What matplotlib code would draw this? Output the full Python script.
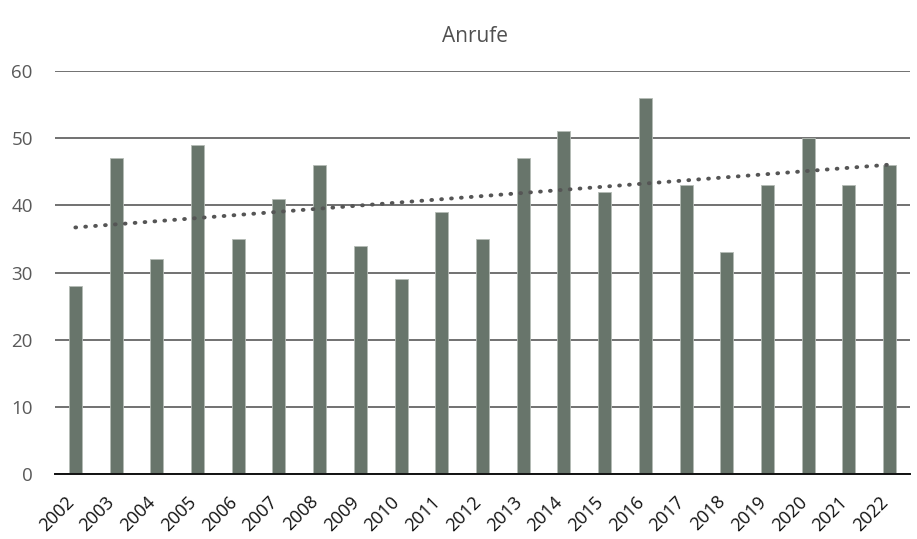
import numpy as np
import matplotlib
matplotlib.use("Agg")
import matplotlib.pyplot as plt
import matplotlib.transforms as mtransforms

plt.rcParams['font.family'] = ['Open Sans', 'DejaVu Sans']

years = [str(y) for y in range(2002, 2023)]
calls = [28, 47, 32, 49, 35, 41, 46, 34, 29, 39, 35, 47, 51, 42, 56, 43, 33, 43, 50, 43, 46]
yticks = [0, 10, 20, 30, 40, 50, 60]

fig = plt.figure(figsize=(9.17, 5.39), dpi=100)
ax = fig.add_axes([55/917, 1 - 474/539, 855/917, (474 - 71)/539])

x = np.arange(len(years))
ax.bar(x, calls, width=0.32, color='#68756b', edgecolor='#b5bcb6', linewidth=0.6, zorder=2)

# linear trend line over all years
coef = np.polyfit(x, calls, 1)
trend = np.polyval(coef, x)
ax.plot(x, trend, linestyle=(0, (0.2, 2.35)), dash_capstyle='round', color='#555555',
        linewidth=2.8, zorder=3)

ax.set_xlim(-0.5, len(years) - 0.5)
ax.set_ylim(0, 60)
ax.set_yticks(yticks)
ax.set_yticklabels([str(t) for t in yticks], fontsize=13.5, color='#595959')
ax.yaxis.grid(True, color='#4a4a4a', linewidth=1.1, zorder=0)
ax.set_axisbelow(True)
ax.tick_params(axis='y', length=0, pad=16)
ax.set_xticks(x)
ax.set_xticklabels(years, rotation=45, ha='right', va='center', rotation_mode='anchor',
                   fontsize=13, color='#111111')
ax.tick_params(axis='x', length=0, pad=18)
shift = mtransforms.ScaledTranslation(-4/100, 0, fig.dpi_scale_trans)
for lbl in ax.get_xticklabels():
    lbl.set_transform(lbl.get_transform() + shift)

for s in ['top', 'right', 'left']:
    ax.spines[s].set_visible(False)
ax.spines['bottom'].set_color('#111111')
ax.spines['bottom'].set_linewidth(1.4)
ax.spines['bottom'].set_zorder(4)

fig.text(0.518, 1 - 36/539, 'Anrufe', ha='center', va='center', fontsize=15, color='#505050')

fig.savefig('out.png', dpi=100)
